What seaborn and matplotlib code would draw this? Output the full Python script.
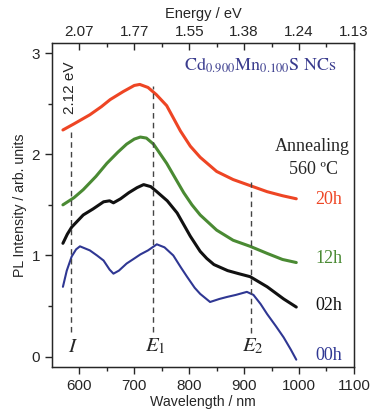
import numpy as np
import pandas as pd
import matplotlib
matplotlib.use("Agg")
import matplotlib.pyplot as plt
import seaborn as sns

# PL spectra (wavelength in nm, intensity in arb. units)
wl_20h = [570, 590, 619, 640, 656, 680, 700, 710, 725, 740, 759, 771, 784, 802, 820, 850, 880, 911, 942, 970, 995]
pl_20h = [2.24, 2.30, 2.39, 2.47, 2.54, 2.62, 2.68, 2.69, 2.66, 2.59, 2.48, 2.36, 2.23, 2.08, 1.97, 1.83, 1.75, 1.69,
          1.63, 1.59, 1.56]

wl_12h = [570, 590, 607, 630, 650, 670, 686, 700, 711, 722, 735, 759, 775, 790, 805, 820, 850, 880, 911, 942, 970, 995]
pl_12h = [1.50, 1.57, 1.65, 1.78, 1.91, 2.02, 2.10, 2.15, 2.17, 2.16, 2.10, 1.91, 1.76, 1.62, 1.50, 1.40, 1.25, 1.15,
          1.09, 1.02, 0.96, 0.93]

wl_02h = [570, 578, 586, 607, 625, 644, 655, 662, 675, 690, 705, 717, 730, 741, 760, 778, 802, 820, 832, 845, 870,
          890, 911, 942, 972, 995]
pl_02h = [1.12, 1.21, 1.28, 1.40, 1.46, 1.53, 1.54, 1.52, 1.56, 1.62, 1.67, 1.70, 1.68, 1.63, 1.54, 1.42, 1.19, 1.04,
          0.97, 0.91, 0.85, 0.82, 0.79, 0.69, 0.57, 0.49]

wl_00h = [570, 577, 586, 594, 601, 619, 632, 644, 655, 662, 672, 686, 700, 711, 725, 741, 755, 771, 785, 796, 810,
          820, 838, 855, 869, 885, 905, 917, 930, 942, 958, 972, 985, 995]
pl_00h = [0.69, 0.85, 0.99, 1.06, 1.09, 1.05, 1.00, 0.95, 0.86, 0.82, 0.85, 0.92, 0.97, 1.01, 1.05, 1.11, 1.08, 1.00,
          0.88, 0.79, 0.68, 0.62, 0.54, 0.57, 0.59, 0.61, 0.64, 0.61, 0.52, 0.42, 0.30, 0.19, 0.07, -0.03]

series_names = ["20h", "12h", "02h", "00h"]
series_colors = ["#ee4524", "#4a8a33", "#111111", "#2f3793"]

# dashed guide lines: I (2.12 eV), E1, E2
peak_labels = ["$I$", "$E_1$", "$E_2$"]
peak_wl = [585, 734, 912]
peak_ymin = [0.24, 0.24, 0.23]
peak_ymax = [2.26, 2.67, 1.73]

wl_ticks = [600, 700, 800, 900, 1000, 1100]
energy_labels = ["2.07", "1.77", "1.55", "1.38", "1.24", "1.13"]

sns.set_style("ticks")
plt.rcParams["font.family"] = ["Liberation Sans", "DejaVu Sans"]
plt.rcParams["mathtext.fontset"] = "stix"

df = pd.concat([
    pd.DataFrame({"wl": wl_20h, "pl": pl_20h, "s": "20h"}),
    pd.DataFrame({"wl": wl_12h, "pl": pl_12h, "s": "12h"}),
    pd.DataFrame({"wl": wl_02h, "pl": pl_02h, "s": "02h"}),
    pd.DataFrame({"wl": wl_00h, "pl": pl_00h, "s": "00h"}),
])

fig = plt.figure(figsize=(3.71, 4.13), dpi=100)
ax = fig.add_axes([0.140, 0.112, 0.814, 0.784])

for name, col in zip(series_names, series_colors):
    lw = 1.5 if name == "00h" else 2.2
    sns.lineplot(data=df[df.s == name], x="wl", y="pl", color=col, lw=lw,
                 sort=False, estimator=None, ax=ax)

ax.vlines(peak_wl, peak_ymin, peak_ymax, colors="#444444", linestyles=(0, (4, 3)), lw=1.0)

ax.set_xlim(550, 1100)
ax.set_ylim(-0.1, 3.1)
ax.set_xticks(wl_ticks)
ax.set_xticks(np.arange(650, 1100, 100), minor=True)
ax.set_yticks([0, 1, 2, 3])
ax.set_yticks([0.5, 1.5, 2.5], minor=True)
ax.tick_params(axis="both", which="major", labelsize=11, length=5, width=1, direction="out")
ax.tick_params(axis="both", which="minor", length=3, width=1, direction="out")
ax.set_xlabel("Wavelength / nm", fontsize=10.2, labelpad=2)
ax.set_ylabel("PL Intensity / arb. units", fontsize=10.2, labelpad=3)
for sp in ax.spines.values():
    sp.set_linewidth(1.0)
    sp.set_color("#222222")

top = ax.twiny()
top.set_xlim(ax.get_xlim())
top.set_xticks(wl_ticks)
top.set_xticklabels(energy_labels)
top.set_xticks(np.arange(650, 1100, 100), minor=True)
top.tick_params(axis="x", which="major", labelsize=11, length=5, width=1, direction="in", pad=3)
top.tick_params(axis="x", which="minor", length=3, width=1, direction="in")
top.set_xlabel("Energy / eV", fontsize=10.5, labelpad=5)

serif = ["Liberation Serif", "DejaVu Serif"]
ax.text(930, 2.89, r"$\mathrm{Cd_{0.900}Mn_{0.100}S\ NCs}$", color="#3a3c8e", fontsize=13,
        ha="center", va="center")
ax.text(1025, 2.08, "Annealing", family=serif, fontsize=13, ha="center", va="center")
ax.text(1027, 1.85, "560 ºC", family=serif, fontsize=13, ha="center", va="center")

label_y = [1.55, 0.97, 0.51, 0.01]
for name, col, yy in zip(series_names, series_colors, label_y):
    ax.text(1054, yy, name, color=col, family=serif, fontsize=13, ha="center", va="center")

for lab, x in zip(peak_labels, peak_wl):
    ax.text(x + 4, 0.10, lab, fontsize=15, ha="center", va="center")

ax.text(583, 2.66, "2.12 eV", rotation=90, fontsize=11, ha="center", va="center")

fig.savefig("out.png", dpi=100)
